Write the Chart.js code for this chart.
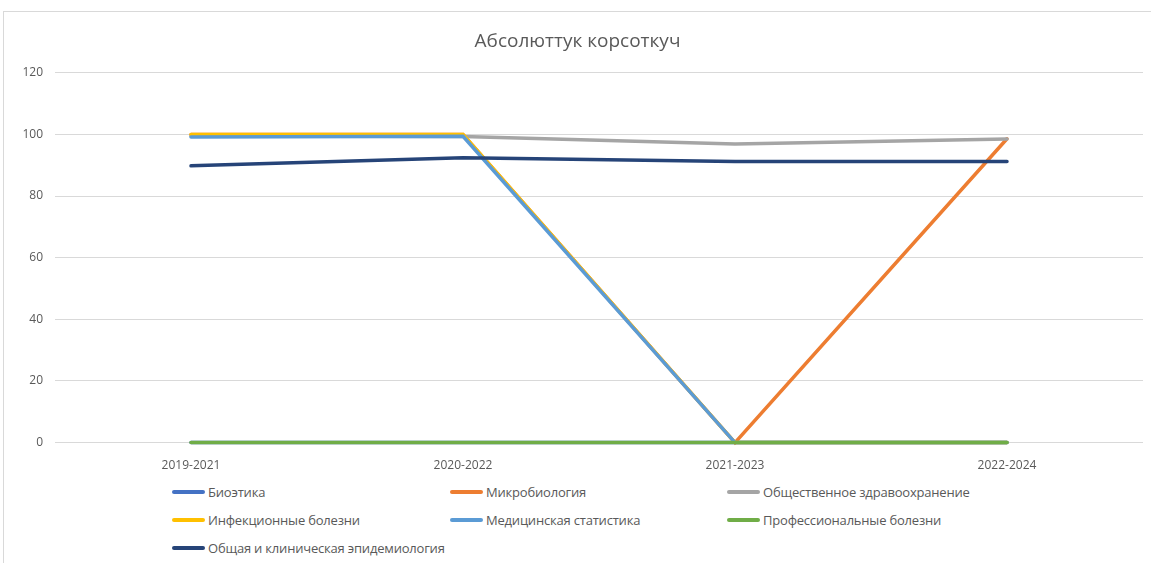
<!DOCTYPE html>
<html>
<head>
<meta charset="utf-8">
<script src="https://cdn.jsdelivr.net/npm/chart.js@4"></script>
<style>
  body { margin: 0; background: #fff; font-family: "Open Sans", sans-serif; }
  #frame { position: absolute; left: 3px; top: 11px; width: 1150px; height: 560px; border: 1px solid #d9d9d9; box-sizing: border-box; }
  #wrap { position: absolute; left: 0; top: 0; width: 1151px; height: 481px; }
  #legend { position: absolute; left: 172px; top: 482px; display: grid; grid-template-columns: 278px 277px 300px; row-gap: 8px; }
  .item { display: flex; align-items: center; height: 20px; font-size: 13px; color: #595959; white-space: nowrap; letter-spacing: -0.2px; }
  .swatch { width: 33px; height: 4px; border-radius: 2px; margin-right: 3px; flex: none; }
</style>
</head>
<body>
<div id="frame"></div>
<div id="wrap"><canvas id="chart"></canvas></div>
<div id="legend"></div>
<script>
const TITLE = "Абсолюттук корсоткуч";
const PERIODS = ["2019-2021", "2020-2022", "2021-2023", "2022-2024"];
const Y_TICKS = [0, 20, 40, 60, 80, 100, 120];

const NAMES = [
  "Биоэтика",
  "Микробиология",
  "Общественное здравоохранение",
  "Инфекционные болезни",
  "Медицинская статистика",
  "Профессиональные болезни",
  "Общая и клиническая эпидемиология",
];
const COLORS = ["#4472c4", "#ed7d31", "#a5a5a5", "#ffc000", "#5b9bd5", "#70ad47", "#264478"];

const bioethics = [0, 0, 0, 0];
const microbiology = [100, 100, 0, 98.6];
const publicHealth = [99.5, 99.3, 96.9, 98.5];
const infectious = [100, 100, 0, 0];
const medStats = [99.2, 99.4, 0, 0];
const occupational = [0, 0, 0, 0];
const epidemiology = [89.8, 92.4, 91.2, 91.2];

const SERIES = [bioethics, microbiology, publicHealth, infectious, medStats, occupational, epidemiology];

// excel draws later series on top, chart.js draws lower order on top
const datasets = SERIES.map((values, i) => ({
  label: NAMES[i],
  data: values,
  borderColor: COLORS[i],
  backgroundColor: COLORS[i],
  borderWidth: 3.5,
  pointRadius: 0,
  tension: 0,
  order: SERIES.length - i,
  borderCapStyle: "round",
  clip: false,
}));

new Chart(document.getElementById("chart"), {
  type: "line",
  data: { labels: PERIODS, datasets },
  options: {
    responsive: true,
    maintainAspectRatio: false,
    animation: false,
    layout: { padding: { left: 12, right: 8, top: 0, bottom: 0 } },
    plugins: {
      legend: { display: false },
      tooltip: { enabled: false },
      title: {
        display: true,
        text: TITLE,
        color: "#595959",
        font: { family: "Open Sans", size: 19, weight: "normal" },
        padding: { top: 30, bottom: 20 },
      },
    },
    scales: {
      x: {
        offset: true,
        grid: { display: false },
        border: { display: false },
        ticks: { color: "#595959", font: { family: "Open Sans", size: 12 }, padding: 8 },
      },
      y: {
        min: 0,
        max: 120,
        afterBuildTicks: (axis) => { axis.ticks = Y_TICKS.map((v) => ({ value: v })); },
        afterFit: (axis) => { axis.width = 43; },
        grid: { color: "#d9d9d9", lineWidth: 1, drawTicks: false },
        border: { display: false },
        ticks: { color: "#595959", font: { family: "Open Sans", size: 12 }, padding: 12 },
      },
    },
  },
});

document.getElementById("legend").innerHTML = NAMES.map(
  (n, i) => `<div class="item"><span class="swatch" style="background:${COLORS[i]}"></span>${n}</div>`,
).join("");
</script>
</body>
</html>
